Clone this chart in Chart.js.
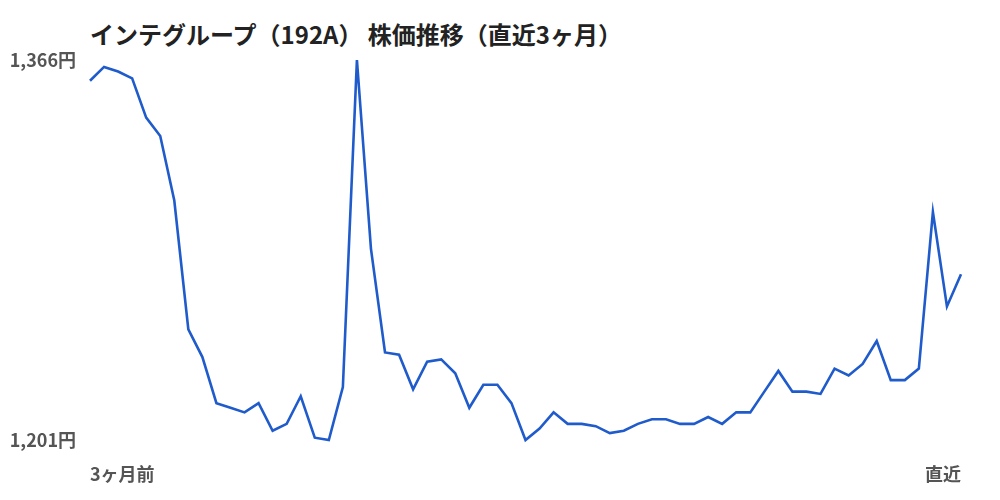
<!DOCTYPE html>
<html>
<head>
<meta charset="utf-8">
<script src="https://cdn.jsdelivr.net/npm/chart.js@4"></script>
<style>
  html, body { margin: 0; padding: 0; background: #fff; }
  #wrap { position: relative; width: 1000px; height: 500px; }
  #title { position: absolute; left: 90px; top: 16px; font-family: "Noto Sans CJK JP", sans-serif; font-weight: bold; font-size: 24px; color: #222; line-height: 36px; white-space: nowrap; }
  canvas { position: absolute; left: 0; top: 0; }
</style>
</head>
<body>
<div id="wrap">
  <div id="title">インテグループ（192A） 株価推移（直近3ヶ月）</div>
  <canvas id="c" width="1000" height="500"></canvas>
</div>
<script>
const chartTitle = "インテグループ（192A） 株価推移（直近3ヶ月）";
const startLabel = "3ヶ月前";
const endLabel = "直近";
const prices = [
  1357, 1363, 1361, 1358, 1341, 1333, 1305, 1249, 1237, 1217,
  1215, 1213, 1217, 1205, 1208, 1220, 1202, 1201, 1224, 1366,
  1284, 1239, 1238, 1223, 1235, 1236, 1230, 1215, 1225, 1225,
  1217, 1201, 1206, 1213, 1208, 1208, 1207, 1204, 1205, 1208,
  1210, 1210, 1208, 1208, 1211, 1208, 1213, 1213, 1222, 1231,
  1222, 1222, 1221, 1232, 1229, 1234, 1244, 1227, 1227, 1232,
  1300, 1259, 1273
];
const yTicks = [1201, 1366];

const labels = prices.map((_, i) => i === 0 ? startLabel : (i === prices.length - 1 ? endLabel : ""));
const tickFont = { family: '"Noto Sans CJK JP", sans-serif', size: 18, weight: 'bold' };

new Chart(document.getElementById('c'), {
  type: 'line',
  data: {
    labels: labels,
    datasets: [{
      data: prices,
      borderColor: '#1f5bcb',
      borderWidth: 2.6,
      pointRadius: 0,
      pointHoverRadius: 0,
      tension: 0,
      fill: false,
      clip: false
    }]
  },
  options: {
    responsive: false,
    animation: false,
    events: [],
    layout: { padding: { top: 60, right: 39, bottom: 0, left: 0 } },
    plugins: { legend: { display: false }, tooltip: { enabled: false }, title: { display: false } },
    scales: {
      x: {
        grid: { display: false, drawTicks: false },
        border: { display: false },
        ticks: {
          autoSkip: false, maxRotation: 0, minRotation: 0,
          align: 'inner', padding: 23,
          color: '#555', font: tickFont,
          callback: function(v, i) { return labels[i]; }
        },
        afterFit: s => { s.height = 60; }
      },
      y: {
        min: yTicks[0], max: yTicks[yTicks.length - 1],
        grid: { display: false, drawTicks: false },
        border: { display: false },
        afterBuildTicks: s => { s.ticks = yTicks.map(v => ({ value: v })); },
        ticks: {
          padding: 14, color: '#555', font: tickFont,
          callback: v => v.toLocaleString('ja-JP') + '円'
        },
        afterFit: s => { s.width = 90; }
      }
    }
  }
});
</script>
</body>
</html>
